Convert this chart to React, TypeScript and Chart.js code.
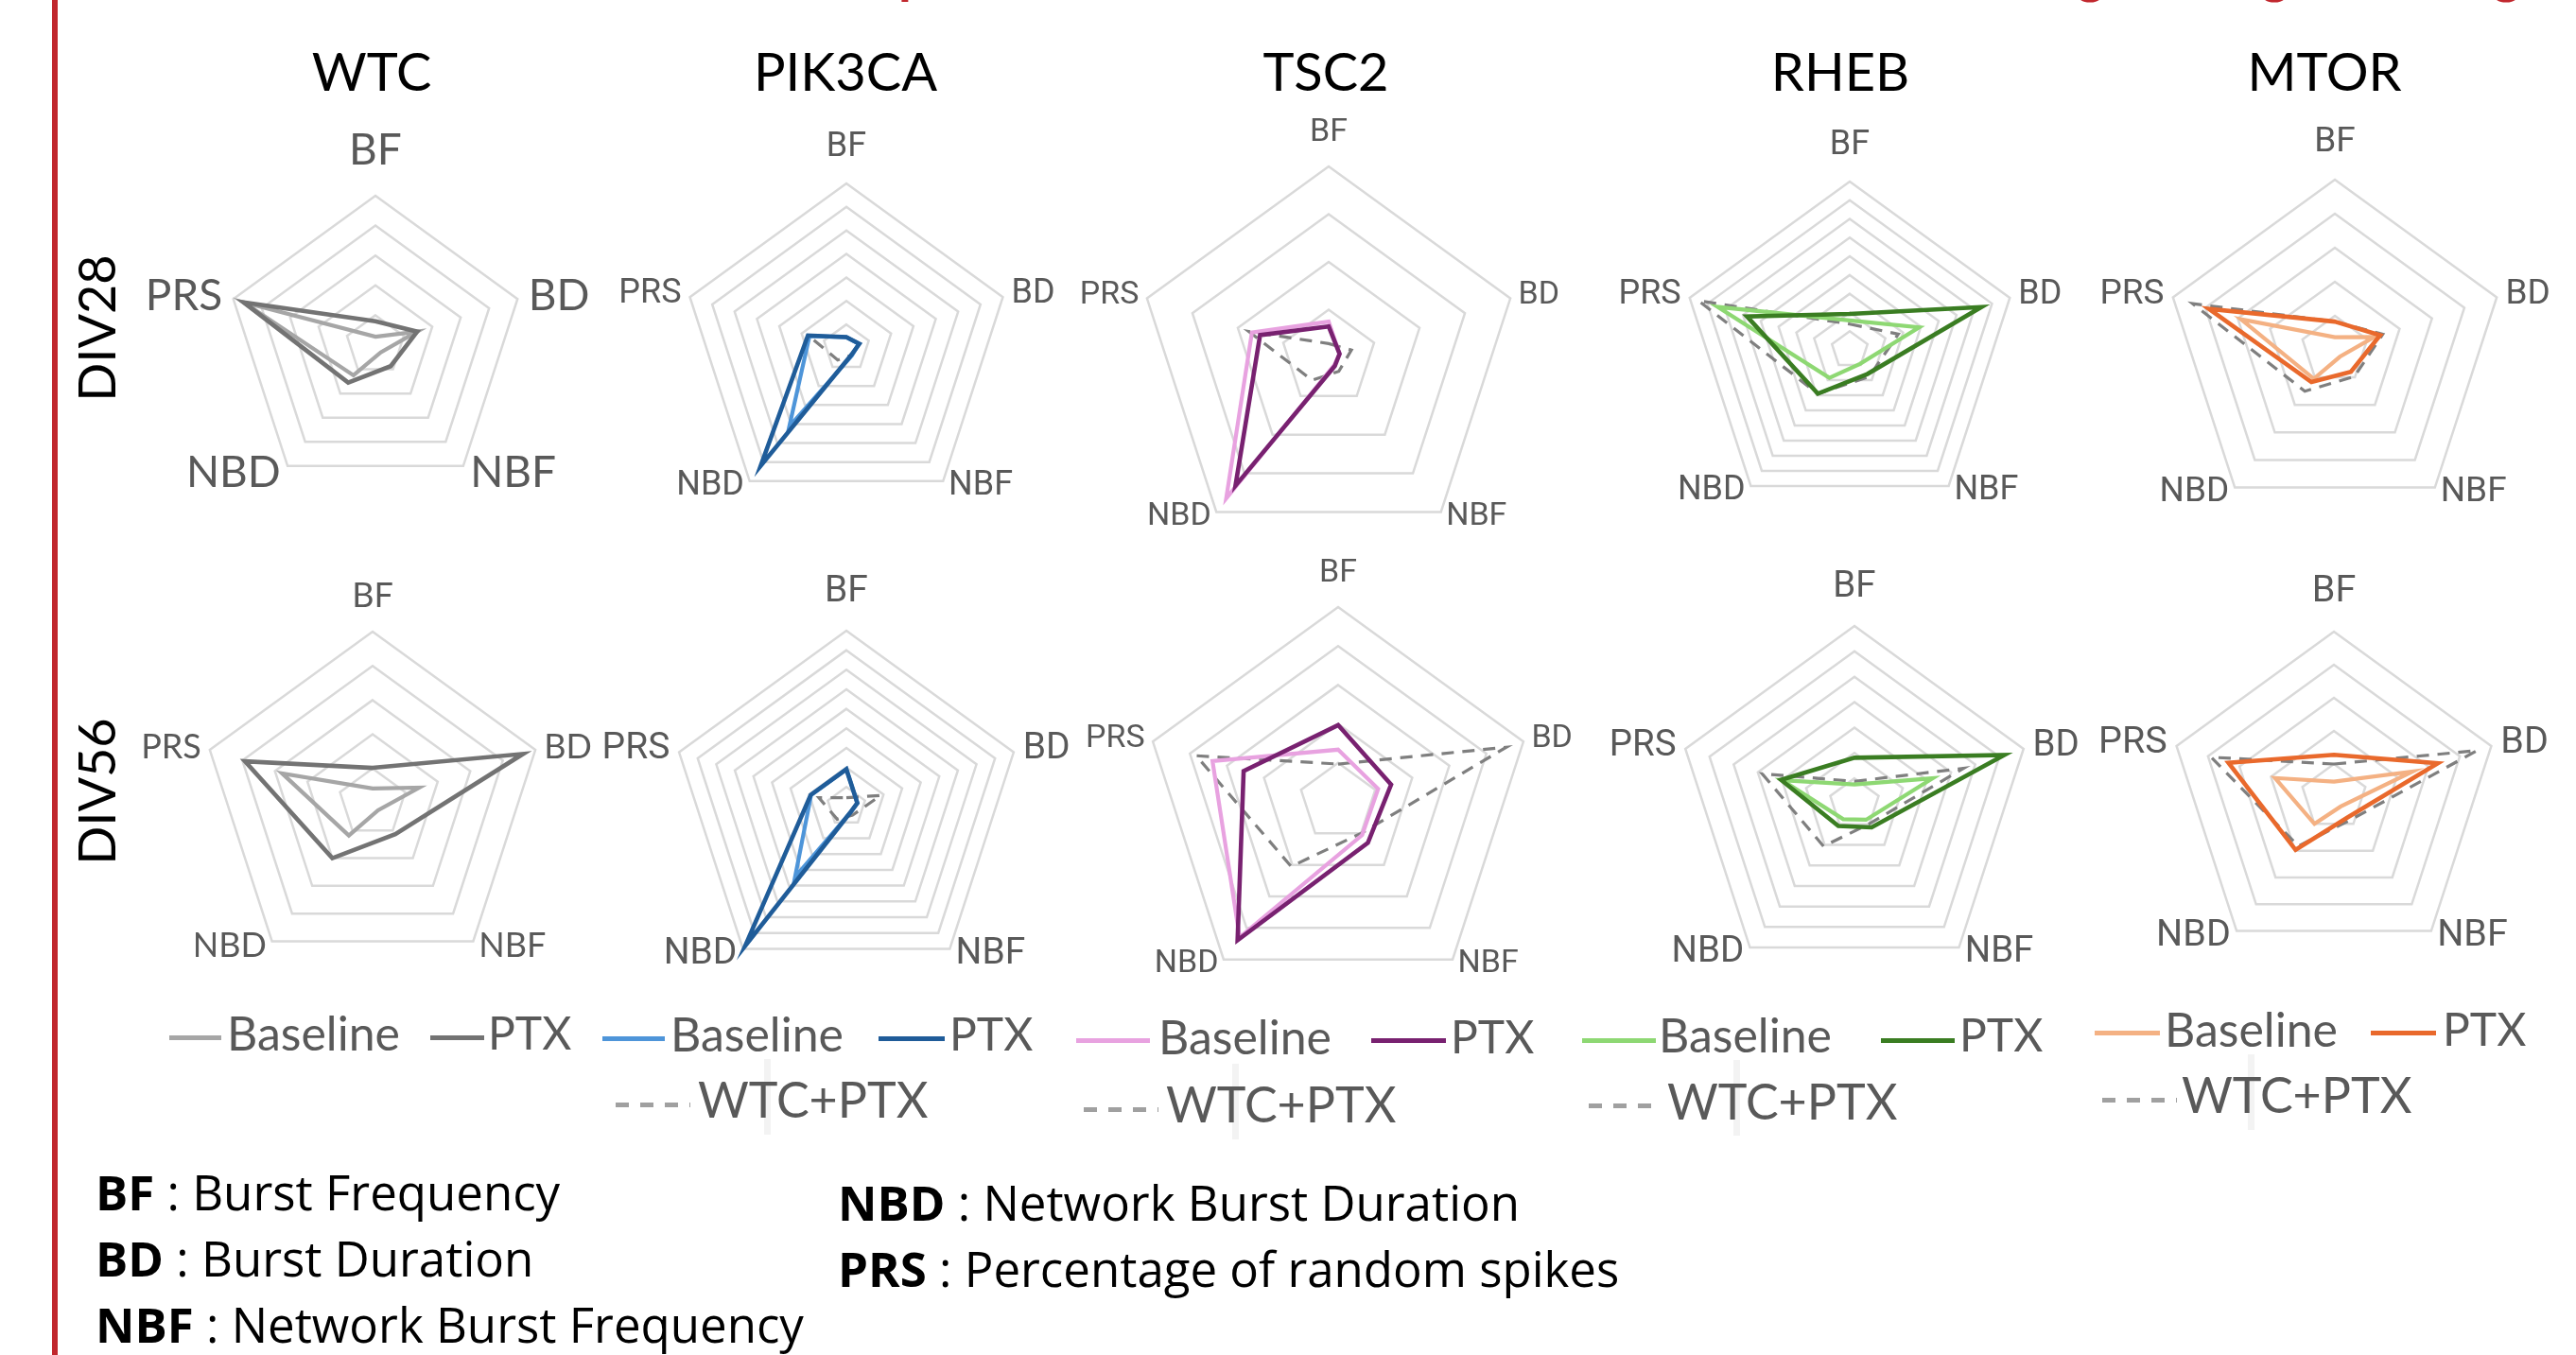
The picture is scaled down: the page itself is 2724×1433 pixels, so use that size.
import React, { useEffect, useRef } from "react";
import { Chart, registerables } from "chart.js";

Chart.register(...registerables);

// ---------- labels ----------
const axisLabels = ["BF", "BD", "NBF", "NBD", "PRS"];
const genes = ["WTC", "PIK3CA", "TSC2", "RHEB", "MTOR"];
const rowLabels = ["DIV28", "DIV56"];
const seriesNames = ["Baseline", "PTX", "WTC+PTX"];
const footerLeft = [
  ["BF", "Burst Frequency"],
  ["BD", "Burst Duration"],
  ["NBF", "Network Burst Frequency"],
];
const footerRight = [
  ["NBD", "Network Burst Duration"],
  ["PRS", "Percentage of random spikes"],
];

// ---------- values (order: BF, BD, NBF, NBD, PRS), in grid-ring units ----------
const wtc28Baseline = [0.28, 1.47, 0.3, 1.25, 4.64];
const wtc28Ptx = [0.8, 1.47, 0.87, 1.55, 4.64];

const pik28Baseline = [0.46, 0.55, 0.4, 4.13, 1.65];
const pik28Ptx = [0.46, 0.58, 0.36, 6.2, 1.72];
const pik28Combo = [0.46, 0.6, 0.38, 0.63, 1.7];

const tsc28Baseline = [0.75, 0.24, 0.2, 3.65, 1.69];
const tsc28Ptx = [0.65, 0.24, 0.22, 3.32, 1.51];
const tsc28Combo = [0.29, 0.5, 0.36, 0.59, 1.76];

const rheb28Baseline = [1.57, 3.9, 0.93, 1.85, 7.43];
const rheb28Ptx = [1.92, 7.4, 1.6, 2.9, 5.78];
const rheb28Combo = [1.38, 2.73, 1.77, 2.9, 8.5];

const mtor28Baseline = [0.37, 1.22, 0.25, 1.05, 2.9];
const mtor28Ptx = [0.83, 1.4, 0.8, 1.17, 3.89];
const mtor28Combo = [0.83, 1.48, 0.97, 1.5, 4.39];

const wtc56Baseline = [0.42, 1.43, 0.27, 1.18, 2.78];
const wtc56Ptx = [1.02, 4.62, 1.13, 2.0, 3.92];

const pik56Baseline = [1.91, 0.59, 0.36, 4.47, 1.9];
const pik56Ptx = [1.91, 0.59, 0.36, 8.8, 1.92];
const pik56Combo = [0.45, 1.85, 0.54, 0.8, 1.48];

const tsc56Baseline = [1.34, 1.08, 1.05, 4.3, 3.39];
const tsc56Ptx = [1.97, 1.43, 1.3, 4.39, 2.55];
const tsc56Combo = [0.97, 4.54, 1.0, 2.05, 3.83];

const rheb56Baseline = [0.76, 3.24, 0.78, 0.75, 3.0];
const rheb56Ptx = [1.81, 6.2, 1.15, 1.08, 3.04];
const rheb56Combo = [0.88, 4.52, 0.98, 2.07, 3.82];

const mtor56Baseline = [0.47, 2.5, 0.35, 1.0, 1.87];
const mtor56Ptx = [1.28, 3.3, 0.74, 1.97, 3.35];
const mtor56Combo = [1.0, 4.55, 0.85, 1.83, 3.9];

// number of grid rings (axis max) per chart
const rings28 = [5, 7, 4, 9, 5];
const rings56 = [5, 9, 5, 7, 5];

// ---------- styles ----------
const baselineColors = ["#a6a6a6", "#4e95d9", "#e8a2e0", "#8ed873", "#f4b183"];
const ptxColors = ["#737373", "#1f5c99", "#782170", "#3a7d22", "#e9692c"];
const comboColor = "#7f7f7f";
const legendComboColor = "#a0a0a0";
const labelGray = "#595959";
const gridGray = "#d9d9d9";
const red = "#c1272d";

// ---------- layout ----------
type ChartCfg = {
  cx: number; cy: number; r: number; rings: number;
  font: string; size: number; gi: number;
  baseline: number[]; ptx: number[]; combo?: number[];
};

const chartCfgs: ChartCfg[] = [
  { cx: 397, cy: 365, r: 158, rings: rings28[0], font: "Lato", size: 46, gi: 0, baseline: wtc28Baseline, ptx: wtc28Ptx },
  { cx: 895, cy: 368, r: 174, rings: rings28[1], font: "Roboto", size: 36, gi: 1, baseline: pik28Baseline, ptx: pik28Ptx, combo: pik28Combo },
  { cx: 1405, cy: 378, r: 202, rings: rings28[2], font: "Roboto", size: 34, gi: 2, baseline: tsc28Baseline, ptx: tsc28Ptx, combo: tsc28Combo },
  { cx: 1956, cy: 370, r: 178, rings: rings28[3], font: "Roboto", size: 36, gi: 3, baseline: rheb28Baseline, ptx: rheb28Ptx, combo: rheb28Combo },
  { cx: 2469, cy: 370, r: 180, rings: rings28[4], font: "Roboto", size: 37, gi: 4, baseline: mtor28Baseline, ptx: mtor28Ptx, combo: mtor28Combo },
  { cx: 394, cy: 849, r: 181, rings: rings56[0], font: "Lato", size: 36, gi: 0, baseline: wtc56Baseline, ptx: wtc56Ptx },
  { cx: 895, cy: 853, r: 186, rings: rings56[1], font: "Roboto", size: 39, gi: 1, baseline: pik56Baseline, ptx: pik56Ptx, combo: pik56Combo },
  { cx: 1415, cy: 848, r: 206, rings: rings56[2], font: "Roboto", size: 34, gi: 2, baseline: tsc56Baseline, ptx: tsc56Ptx, combo: tsc56Combo },
  { cx: 1961, cy: 850, r: 188, rings: rings56[3], font: "Roboto", size: 38.5, gi: 3, baseline: rheb56Baseline, ptx: rheb56Ptx, combo: rheb56Combo },
  { cx: 2468, cy: 843, r: 175, rings: rings56[4], font: "Roboto", size: 39.5, gi: 4, baseline: mtor56Baseline, ptx: mtor56Ptx, combo: mtor56Combo },
];

const titleX = [393, 894, 1402, 1946, 2458];
const titleY = 77;
const rowLabelPos = [{ x: 102, y: 347 }, { x: 102, y: 837 }];

// legend layout: [swatchLeft, swatchRight, textLeft], swatchY, textY
const legendRow1 = [
  [[179, 234, 240], [455, 512, 516], 1097, 1093],
  [[637, 703, 709], [929, 999, 1004], 1098, 1094],
  [[1138, 1216, 1225], [1450, 1529, 1534], 1100, 1097],
  [[1673, 1751, 1754], [1989, 2067, 2072], 1100, 1095],
  [[2215, 2284, 2289], [2507, 2576, 2583], 1092, 1089],
] as any[];
const legendRow2 = [
  null,
  [[651, 730, 738], 1168, 1164],
  [[1146, 1225, 1233], 1173, 1169],
  [[1680, 1758, 1763], 1169, 1166],
  [[2223, 2302, 2307], 1163, 1159],
] as any[];

const PAD = 140;

function labelPlugin(cfg: ChartCfg) {
  return {
    id: "pentLabels",
    afterDraw(chart: any) {
      const scale = chart.scales.r;
      const ctx = chart.ctx;
      const fs = cfg.size;
      ctx.save();
      ctx.font = `${fs}px ${cfg.font}`;
      ctx.fillStyle = labelGray;
      ctx.textBaseline = "middle";
      axisLabels.forEach((lab, i) => {
        const p = scale.getPointPosition(i, scale.drawingArea);
        let x = p.x;
        let y = p.y;
        if (i === 0) { ctx.textAlign = "center"; y -= fs * 1.05; }
        else if (i === 1) { ctx.textAlign = "left"; x += fs * 0.25; y -= 3; }
        else if (i === 2) { ctx.textAlign = "left"; x += fs * 0.16; y += fs * 0.15; }
        else if (i === 3) { ctx.textAlign = "right"; x -= fs * 0.16; y += fs * 0.15; }
        else { ctx.textAlign = "right"; x -= fs * 0.25; y -= 3; }
        ctx.fillText(lab, x, y);
      });
      ctx.restore();
    },
  };
}

function RadarPanel({ cfg }: { cfg: ChartCfg }) {
  const ref = useRef<HTMLCanvasElement>(null);
  const size = 2 * (cfg.r + PAD);
  useEffect(() => {
    const datasets: any[] = [
      { label: seriesNames[1], data: cfg.ptx, borderColor: ptxColors[cfg.gi], borderWidth: 4.6 },
      { label: seriesNames[0], data: cfg.baseline, borderColor: baselineColors[cfg.gi], borderWidth: 4.2 },
    ];
    if (cfg.combo) {
      datasets.push({ label: seriesNames[2], data: cfg.combo, borderColor: comboColor, borderWidth: 3.2, borderDash: [13, 9] });
    }
    datasets.forEach((d) => { d.fill = false; d.pointRadius = 0; d.pointHoverRadius = 0; d.tension = 0; d.backgroundColor = "transparent"; });
    const chart = new Chart(ref.current as HTMLCanvasElement, {
      type: "radar",
      data: { labels: axisLabels, datasets },
      options: {
        responsive: false,
        animation: false,
        devicePixelRatio: 1,
        layout: { padding: PAD },
        plugins: { legend: { display: false }, tooltip: { enabled: false } },
        scales: {
          r: {
            min: 0,
            max: cfg.rings,
            ticks: { display: false, stepSize: 1 },
            grid: { color: gridGray, lineWidth: 2.5 },
            angleLines: { display: false },
            pointLabels: { display: false },
          },
        },
      } as any,
      plugins: [labelPlugin(cfg) as any],
    });
    return () => chart.destroy();
  }, []);
  return (
    <canvas
      ref={ref}
      width={size}
      height={size}
      style={{ position: "absolute", left: cfg.cx - cfg.r - PAD, top: cfg.cy - cfg.r - PAD, width: size, height: size }}
    />
  );
}

function Txt(props: { x: number; y: number; size: number; family: string; color: string; center?: boolean; children: any }) {
  const { x, y, size, family, color, center, children } = props;
  return (
    <div
      style={{
        position: "absolute",
        left: x,
        top: y - 0.53 * size,
        fontSize: size,
        lineHeight: `${size}px`,
        fontFamily: family,
        color,
        whiteSpace: "nowrap",
        transform: center ? "translateX(-50%)" : undefined,
      }}
    >
      {children}
    </div>
  );
}

function Swatch({ x1, x2, y, color, dashed }: { x1: number; x2: number; y: number; color: string; dashed?: boolean }) {
  return (
    <div
      style={{
        position: "absolute",
        left: x1,
        top: y - 2.5,
        width: x2 - x1,
        height: 5,
        background: dashed
          ? `repeating-linear-gradient(to right, ${color} 0px, ${color} 14px, transparent 14px, transparent 26px)`
          : color,
      }}
    />
  );
}

export default function App() {
  return (
    <div style={{ position: "absolute", left: 0, top: 0, width: 2724, height: 1433, background: "#ffffff", overflow: "hidden" }}>
      {/* red frame line */}
      <div style={{ position: "absolute", left: 55, top: 0, width: 6, height: 1433, background: red }} />
      {/* cut-off red heading descenders */}
      {[[950, "p"], [2196, "g"], [2391, "g"], [2636, "g"]].map(([x, ch], i) => (
        <div key={"d" + i} style={{ position: "absolute", left: x as number, top: -56, fontSize: 56, lineHeight: "56px", fontFamily: "Lato", fontWeight: 700, color: red }}>{ch}</div>
      ))}

      {genes.map((g, i) => (
        <Txt key={g} x={titleX[i]} y={titleY} size={56} family="Lato" color="#000" center>{g}</Txt>
      ))}

      {rowLabels.map((lab, i) => (
        <div
          key={lab}
          style={{
            position: "absolute",
            left: rowLabelPos[i].x,
            top: rowLabelPos[i].y,
            fontSize: 54,
            lineHeight: "54px",
            fontFamily: "Lato",
            color: "#000",
            whiteSpace: "nowrap",
            transform: "translate(-50%, -50%) rotate(-90deg)",
          }}
        >
          {lab}
        </div>
      ))}

      {chartCfgs.map((c, i) => <RadarPanel key={i} cfg={c} />)}

      {/* legends */}
      {legendRow1.map((l: any, gi: number) => (
        <React.Fragment key={"l1" + gi}>
          <Swatch x1={l[0][0]} x2={l[0][1]} y={l[2]} color={baselineColors[gi]} />
          <Txt x={l[0][2]} y={l[3]} size={50} family="Lato" color={labelGray}>{seriesNames[0]}</Txt>
          <Swatch x1={l[1][0]} x2={l[1][1]} y={l[2]} color={ptxColors[gi]} />
          <Txt x={l[1][2]} y={l[3]} size={48} family="Lato" color={labelGray}>{seriesNames[1]}</Txt>
        </React.Fragment>
      ))}
      {legendRow2.map((l: any, gi: number) =>
        l ? (
          <React.Fragment key={"l2" + gi}>
            <div style={{ position: "absolute", left: l[0][2] + 70, top: l[1] - 48, width: 7, height: 80, background: "#f3f3f3" }} />
            <Swatch x1={l[0][0]} x2={l[0][1]} y={l[1]} color={legendComboColor} dashed />
            <Txt x={l[0][2]} y={l[2]} size={52} family="Lato" color={labelGray}>{seriesNames[2]}</Txt>
          </React.Fragment>
        ) : null
      )}

      {/* footer definitions */}
      {footerLeft.map(([a, b], i) => (
        <Txt key={a} x={101} y={1262 + i * 70} size={51} family="'Open Sans'" color="#000">
          <b>{a}</b> : {b}
        </Txt>
      ))}
      {footerRight.map(([a, b], i) => (
        <Txt key={a} x={886} y={1273 + i * 70} size={51} family="'Open Sans'" color="#000">
          <b>{a}</b> : {b}
        </Txt>
      ))}
    </div>
  );
}
